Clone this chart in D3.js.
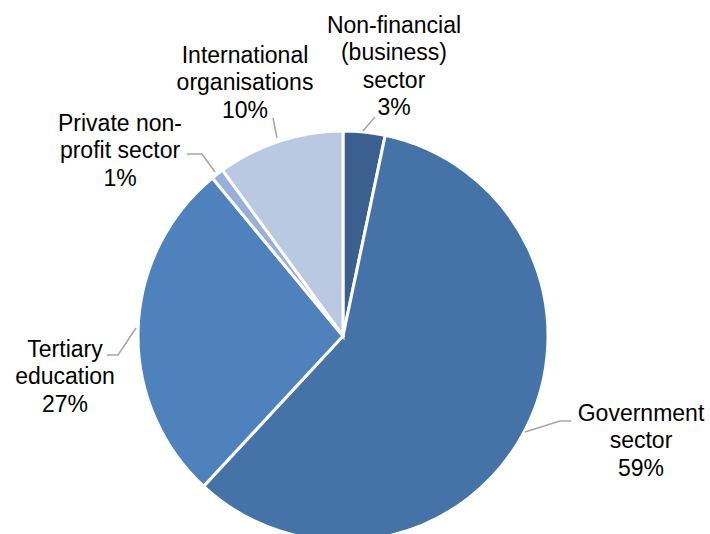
<!DOCTYPE html>
<html><head><meta charset="utf-8">
<script src="https://cdn.jsdelivr.net/npm/d3@7"></script>
<style>html,body{margin:0;padding:0;background:#fff;overflow:hidden}</style>
</head><body>
<svg id="chart" width="710" height="534"></svg>
<script>
const categories = ["Non-financial (business) sector", "Government sector", "Tertiary education", "Private non-profit sector", "International organisations"];
const values = [3.3, 58.6, 27.1, 1.0, 10.0];
const pctLabels = ["3%", "59%", "27%", "1%", "10%"];
const labelLines = [["Non-financial", "(business)", "sector", "3%"], ["Government", "sector", "59%"], ["Tertiary", "education", "27%"], ["Private non-", "profit sector", "1%"], ["International", "organisations", "10%"]];
const colors = ["#3B5F8E", "#4573A8", "#4F81BD", "#98B0D9", "#BAC8E2"];

const svg = d3.select("#chart");
const cx = 343, cy = 336, r = 205;
const g = svg.append("g").attr("transform", `translate(${cx},${cy})`);
const pie = d3.pie().sort(null).value(d => d)(values);
const arc = d3.arc().innerRadius(0).outerRadius(r);
g.selectAll("path").data(pie).enter().append("path")
  .attr("d", arc).attr("fill", (d, i) => colors[i])
  .attr("stroke", "#fff").attr("stroke-width", 3).attr("stroke-linejoin", "miter");

// label placement (text centre x, first baseline y) and leader lines
const labelPos = [[394, 33], [641, 421], [65, 357], [120, 131], [245, 63]];
const leaders = [
  [[363, 131], [375, 117]],
  [[525, 432], [560, 421], [571, 421]],
  [[136, 328], [118, 355], [107, 355]],
  [[215, 172], [202, 154], [187, 154]],
  [[277, 138], [273, 118]]
];
svg.selectAll("path.leader").data(leaders).enter().append("path")
  .attr("class", "leader")
  .attr("d", d => d3.line()(d))
  .attr("fill", "none").attr("stroke", "#A6A6A6").attr("stroke-width", 1.5);

const lh = 27.3;
labelLines.forEach((lines, i) => {
  const t = svg.append("text")
    .attr("x", labelPos[i][0]).attr("y", labelPos[i][1])
    .attr("text-anchor", "middle")
    .attr("font-family", "Liberation Sans, Arial, sans-serif")
    .attr("font-size", 23).attr("fill", "#000");
  lines.forEach((ln, j) => {
    t.append("tspan").attr("x", labelPos[i][0]).attr("y", labelPos[i][1] + j * lh).text(ln);
  });
});
</script>
</body></html>
